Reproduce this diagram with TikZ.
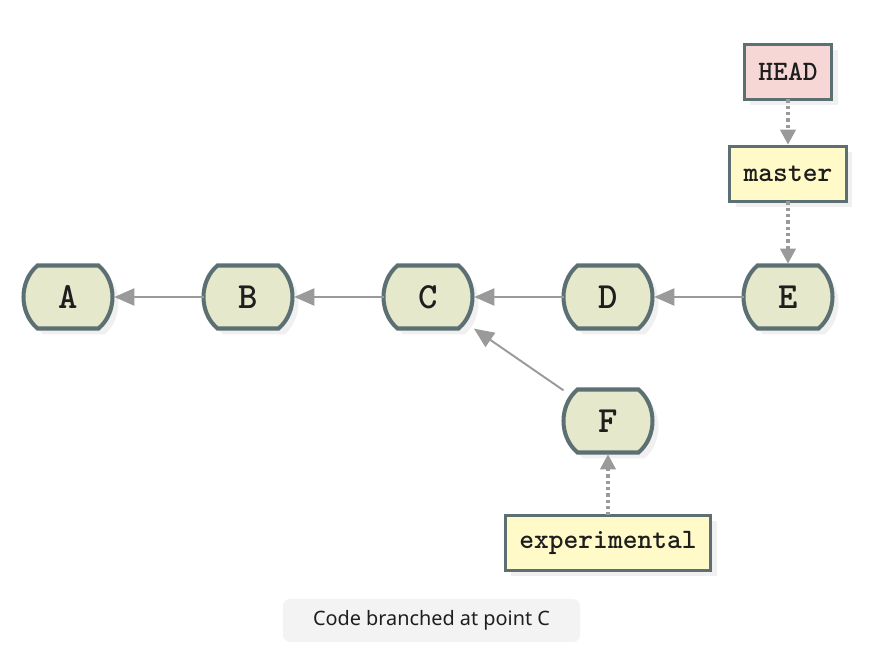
\documentclass[tikz,border=0pt]{standalone}
\usepackage{fontspec}
\newfontfamily\captionfont{Noto Sans}
\usetikzlibrary{positioning,arrows.meta,shadows}
\definecolor{commitfill}{HTML}{E5E8CB}
\definecolor{commitedge}{HTML}{5C7073}
\definecolor{headfill}{HTML}{F7D6D6}
\definecolor{reffill}{HTML}{FFFAC8}
\definecolor{linkgray}{HTML}{9A9A9A}
\definecolor{captionbg}{HTML}{F3F3F3}
\definecolor{textdark}{HTML}{1E1E1E}

% commit shape: flat top and bottom, bowed sides
\newdimen\cmtLeft \newdimen\cmtRight \newdimen\cmtTop \newdimen\cmtBot
\newdimen\cmtInL \newdimen\cmtInR \newdimen\cmtOutL \newdimen\cmtOutR
\newdimen\cmtQa \newdimen\cmtQb
\makeatletter
\pgfdeclareshape{commitshape}{
  \inheritsavedanchors[from=rectangle]
  \inheritanchorborder[from=rectangle]
  \inheritanchor[from=rectangle]{center}
  \inheritanchor[from=rectangle]{north}
  \inheritanchor[from=rectangle]{south}
  \inheritanchor[from=rectangle]{east}
  \inheritanchor[from=rectangle]{west}
  \inheritanchor[from=rectangle]{north east}
  \inheritanchor[from=rectangle]{north west}
  \inheritanchor[from=rectangle]{south east}
  \inheritanchor[from=rectangle]{south west}
  \inheritanchor[from=rectangle]{base}
  \inheritanchor[from=rectangle]{mid}
  \inheritanchor[from=rectangle]{text}
  \backgroundpath{%
    \southwest \cmtLeft=\pgf@x \cmtBot=\pgf@y
    \northeast \cmtRight=\pgf@x \cmtTop=\pgf@y
    \cmtInL=\cmtLeft \advance\cmtInL by 0.28cm
    \cmtInR=\cmtRight \advance\cmtInR by -0.28cm
    \cmtOutL=\cmtLeft \advance\cmtOutL by -0.0933cm
    \cmtOutR=\cmtRight \advance\cmtOutR by 0.0933cm
    \cmtQa=\cmtTop \advance\cmtQa by -\cmtBot \cmtQa=0.25\cmtQa
    \cmtQb=\cmtBot \advance\cmtQb by \cmtQa
    \cmtQa=-\cmtQa \advance\cmtQa by \cmtTop
    \pgfpathmoveto{\pgfqpoint{\cmtInL}{\cmtTop}}
    \pgfpathlineto{\pgfqpoint{\cmtInR}{\cmtTop}}
    \pgfpathcurveto{\pgfqpoint{\cmtOutR}{\cmtQa}}{\pgfqpoint{\cmtOutR}{\cmtQb}}{\pgfqpoint{\cmtInR}{\cmtBot}}
    \pgfpathlineto{\pgfqpoint{\cmtInL}{\cmtBot}}
    \pgfpathcurveto{\pgfqpoint{\cmtOutL}{\cmtQb}}{\pgfqpoint{\cmtOutL}{\cmtQa}}{\pgfqpoint{\cmtInL}{\cmtTop}}
    \pgfpathclose
  }
}
\makeatother

\begin{document}
\begin{tikzpicture}[
    commit/.style={shape=commitshape, draw=commitedge, fill=commitfill, line width=2.3pt, minimum width=1.78cm, minimum height=1.26cm, inner sep=0pt, outer sep=0pt, text=textdark, font=\fontsize{21}{24}\selectfont\ttfamily\bfseries, drop shadow={opacity=0.12, shadow xshift=0.12cm, shadow yshift=-0.12cm}},
    ref/.style={rectangle, draw=commitedge, fill=reffill, line width=1.7pt, minimum height=1.1cm, inner xsep=0.28cm, outer sep=0pt, text=textdark, font=\fontsize{16}{18}\selectfont\ttfamily\bfseries, drop shadow={opacity=0.12, shadow xshift=0.12cm, shadow yshift=-0.12cm}},
    link/.style={-{Triangle[length=0.4cm, width=0.34cm]}, line width=1.1pt, linkgray, shorten >=1pt},
    pointer/.style={-{Triangle[length=0.3cm, width=0.3cm]}, linkgray, line width=2pt, dash pattern=on 1.8pt off 1.8pt, shorten >=1pt}
  ]
    \useasboundingbox (-1.36,5.94) rectangle (16.38,-7.28);

    % Commits on master
    \node[commit] (A) at (0,0) {A};
    \node[commit] (B) at (3.6,0) {B};
    \node[commit] (C) at (7.2,0) {C};
    \node[commit] (D) at (10.8,0) {D};
    \node[commit] (E) at (14.4,0) {E};

    % Branch commit
    \node[commit] (F) at (10.8,-2.48) {F};

    % Refs
    \node[ref, fill=headfill] (head) at (14.4,4.5) {HEAD};
    \node[ref] (master) at (14.4,2.46) {master};
    \node[ref] (experimental) at (10.8,-4.92) {experimental};

    % Parent links
    \draw[link] (B) -- (A);
    \draw[link] (C) -- (B);
    \draw[link] (D) -- (C);
    \draw[link] (E) -- (D);
    \draw[link] (F) -- (C);

    % Ref pointers
    \draw[pointer] (head) -- (master);
    \draw[pointer] (master) -- (E);
    \draw[pointer] (experimental) -- (F);

    % Caption
    \node[fill=captionbg, rounded corners=4pt, minimum width=5.94cm, minimum height=0.86cm, text=textdark, font=\captionfont\fontsize{11.3}{13}\selectfont] (caption) at (7.27,-6.47) {Code branched at point C};
  \end{tikzpicture}
\end{document}
